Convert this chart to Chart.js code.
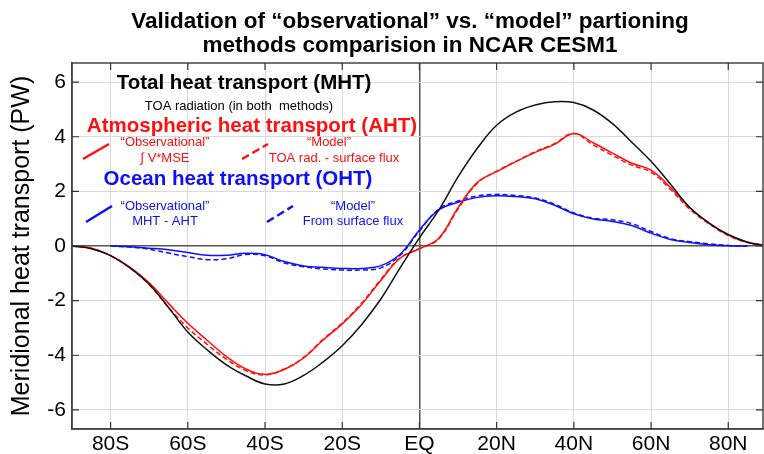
<!DOCTYPE html>
<html>
<head>
<meta charset="utf-8">
<script src="https://cdn.jsdelivr.net/npm/chart.js@4"></script>
<style>
  html, body { margin: 0; padding: 0; background: #fff; }
  #wrap { width: 764px; height: 454px; }
</style>
</head>
<body>
<div id="wrap"><canvas id="chart" width="764" height="454"></canvas></div>
<script>
// latitude grid (deg, south negative)
const lats = [-90,-85,-80,-75,-70,-65,-60,-55,-50,-45,-40,-35,-30,-25,-20,-15,-10,-5,0,5,10,15,20,25,30,35,40,45,50,55,60,65,70,75,80,85,90];

// total heat transport from TOA radiation (PW)
const mhtTOA = [0,-0.1,-0.35,-0.8,-1.4,-2.25,-3.15,-3.8,-4.35,-4.75,-5.05,-5.05,-4.74,-4.25,-3.65,-2.88,-1.94,-0.8,0.3,1.31,2.53,3.58,4.42,4.9,5.16,5.28,5.25,4.98,4.48,3.8,3.1,2.27,1.42,0.84,0.42,0.14,0];

// atmospheric heat transport
const ahtObs = [0,-0.08,-0.35,-0.77,-1.35,-2.1,-2.83,-3.45,-4.05,-4.5,-4.7,-4.52,-4.1,-3.45,-2.85,-2.14,-1.26,-0.45,-0.1,0.28,1.4,2.33,2.72,3.09,3.43,3.72,4.12,3.78,3.4,3.03,2.78,2.15,1.4,0.85,0.4,0.14,0.02];
const ahtModel = [0,-0.08,-0.36,-0.8,-1.42,-2.25,-3.0,-3.6,-4.15,-4.56,-4.72,-4.5,-4.08,-3.42,-2.82,-2.1,-1.22,-0.43,-0.1,0.26,1.36,2.3,2.74,3.1,3.45,3.75,4.12,3.7,3.32,2.96,2.7,2.08,1.35,0.82,0.38,0.13,0.02];

// ocean heat transport
const ohtObs = [null,null,0,-0.03,-0.08,-0.14,-0.24,-0.34,-0.34,-0.27,-0.32,-0.57,-0.73,-0.78,-0.82,-0.82,-0.72,-0.3,0.59,1.32,1.6,1.78,1.84,1.81,1.73,1.49,1.18,0.99,0.9,0.75,0.47,0.24,0.13,0.05,0.01,0,null];
const ohtModel = [null,null,0,-0.04,-0.12,-0.26,-0.39,-0.5,-0.47,-0.31,-0.36,-0.62,-0.76,-0.84,-0.88,-0.88,-0.8,-0.34,0.55,1.35,1.65,1.83,1.89,1.85,1.76,1.53,1.21,1.02,0.96,0.82,0.53,0.27,0.16,0.08,0.02,0,null];

// axis ticks
const xTickLats = [-80,-60,-40,-20,0,20,40,60,80];
const xTickLabels = ['80S','60S','40S','20S','EQ','20N','40N','60N','80N'];
const yTickVals = [-6,-4,-2,0,2,4,6];

const FONT = "'Liberation Sans', Arial, sans-serif";
const RED = '#ff1010';
const BLUE = '#1010f5';

function pts(vals) {
  return lats.map((lat, i) => ({ x: lat, y: vals[i] }));
}

function line(label, vals, color, dashed) {
  return {
    label: label,
    data: pts(vals),
    borderColor: color,
    borderWidth: 1.5,
    borderDash: dashed ? [5, 3] : [],
    pointRadius: 0,
    fill: false,
    tension: 0.4
  };
}

// frame, inward ticks, title and the text key inside the plot
const decorations = {
  id: 'decorations',
  afterDatasetsDraw(chart) {
    const { ctx, chartArea: a, scales } = chart;
    const x = scales.x, y = scales.y;
    ctx.save();

    ctx.strokeStyle = '#444';
    ctx.lineWidth = 1.5;
    ctx.strokeRect(a.left, a.top, a.right - a.left, a.bottom - a.top);

    ctx.lineWidth = 1.2;
    ctx.strokeStyle = '#333';
    ctx.beginPath();
    xTickLats.forEach(v => {
      const px = x.getPixelForValue(v);
      ctx.moveTo(px, a.bottom); ctx.lineTo(px, a.bottom - 7);
      ctx.moveTo(px, a.top); ctx.lineTo(px, a.top + 7);
    });
    yTickVals.forEach(v => {
      const py = y.getPixelForValue(v);
      ctx.moveTo(a.left, py); ctx.lineTo(a.left + 7, py);
      ctx.moveTo(a.right, py); ctx.lineTo(a.right - 7, py);
    });
    ctx.stroke();

    const txt = (s, cx, cy, font, color) => {
      ctx.font = font;
      ctx.fillStyle = color;
      ctx.textAlign = 'center';
      ctx.textBaseline = 'middle';
      ctx.fillText(s, cx, cy);
    };
    const key = (x1, y1, x2, y2, color, dash) => {
      ctx.strokeStyle = color;
      ctx.lineWidth = 2.5;
      ctx.setLineDash(dash);
      ctx.beginPath();
      ctx.moveTo(x1, y1);
      ctx.lineTo(x2, y2);
      ctx.stroke();
      ctx.setLineDash([]);
    };

    // title
    txt('Validation of \u201cobservational\u201d vs. \u201cmodel\u201d partioning', 410, 22, 'bold 22.5px ' + FONT, '#000');
    txt('methods comparision in NCAR CESM1', 410, 46, 'bold 22.5px ' + FONT, '#000');

    // key
    txt('Total heat transport (MHT)', 244, 83, 'bold 20.5px ' + FONT, '#000');
    txt('TOA radiation (in both  methods)', 239, 106, '13px ' + FONT, '#000');

    txt('Atmospheric heat transport (AHT)', 252, 126, 'bold 20.5px ' + FONT, RED);
    key(83, 159, 109, 144, RED, []);
    txt('\u201cObservational\u201d', 165, 142, '13px ' + FONT, RED);
    txt('\u222b V*MSE', 165, 158, '13px ' + FONT, RED);
    key(242, 159, 268, 144, RED, [8, 4]);
    txt('\u201cModel\u201d', 329, 142, '13px ' + FONT, RED);
    txt('TOA rad. - surface flux', 334, 158, '13px ' + FONT, RED);

    txt('Ocean heat transport (OHT)', 238, 179, 'bold 20.5px ' + FONT, BLUE);
    key(86, 222, 112, 206, BLUE, []);
    txt('\u201cObservational\u201d', 165, 206, '13px ' + FONT, BLUE);
    txt('MHT - AHT', 165, 221, '13px ' + FONT, BLUE);
    key(267, 222, 293, 206, BLUE, [8, 4]);
    txt('\u201cModel\u201d', 353, 206, '13px ' + FONT, BLUE);
    txt('From surface flux', 353, 221, '13px ' + FONT, BLUE);

    ctx.restore();
  }
};

const gridColor = ctx => (ctx.tick && ctx.tick.value === 0) ? '#555' : '#dadada';
const gridWidth = ctx => (ctx.tick && ctx.tick.value === 0) ? 1.5 : 1;

new Chart(document.getElementById('chart'), {
  type: 'line',
  data: {
    datasets: [
      line('MHT', mhtTOA, '#111', false),
      line('AHT observational', ahtObs, RED, false),
      line('AHT model', ahtModel, RED, true),
      line('OHT observational', ohtObs, BLUE, false),
      line('OHT model', ohtModel, BLUE, true)
    ]
  },
  options: {
    responsive: false,
    animation: false,
    layout: { padding: { top: 63, right: 1, left: 0, bottom: 0 } },
    plugins: {
      legend: { display: false },
      title: { display: false },
      tooltip: { enabled: false }
    },
    scales: {
      x: {
        type: 'linear',
        min: -90,
        max: 89,
        afterBuildTicks: s => { s.ticks = xTickLats.map(v => ({ value: v })); },
        afterFit: s => { s.height = 25; },
        ticks: {
          padding: 3,
          color: '#000',
          font: { family: FONT, size: 21 },
          maxRotation: 0,
          autoSkip: false,
          callback: v => xTickLabels[xTickLats.indexOf(v)]
        },
        grid: { drawTicks: false, color: gridColor, lineWidth: gridWidth },
        border: { color: '#444', width: 1.5 }
      },
      y: {
        type: 'linear',
        min: -6.7,
        max: 6.7,
        afterBuildTicks: s => { s.ticks = yTickVals.map(v => ({ value: v })); },
        afterFit: s => { s.width = 72; },
        ticks: {
          padding: 6,
          color: '#000',
          font: { family: FONT, size: 21 },
          callback: v => String(v)
        },
        grid: { drawTicks: false, color: gridColor, lineWidth: gridWidth },
        border: { color: '#444', width: 1.5 },
        title: {
          display: true,
          text: 'Meridional heat transport (PW)',
          color: '#000',
          font: { family: FONT, size: 25 },
          padding: { top: 7, bottom: 0 }
        }
      }
    }
  },
  plugins: [decorations]
});
</script>
</body>
</html>
